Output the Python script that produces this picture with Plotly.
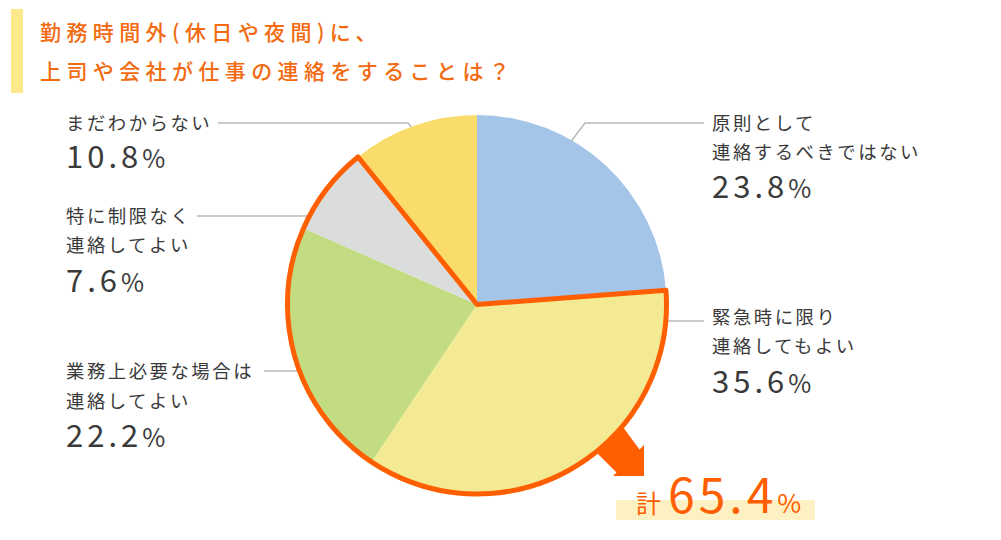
import plotly.graph_objects as go

# ---------------- data ----------------
categories = [
    "原則として連絡するべきではない",
    "緊急時に限り連絡してもよい",
    "業務上必要な場合は連絡してよい",
    "特に制限なく連絡してよい",
    "まだわからない",
]
label_lines = [
    ["原則として", "連絡するべきではない"],
    ["緊急時に限り", "連絡してもよい"],
    ["業務上必要な場合は", "連絡してよい"],
    ["特に制限なく", "連絡してよい"],
    ["まだわからない"],
]
values = [23.8, 35.6, 22.2, 7.6, 10.8]
slice_colors = ["#a4c4e8", "#f4ea94", "#c3dc82", "#dbdddc", "#f9dc6c"]
highlight_idx = [1, 2, 3]
title_lines = ["勤務時間外(休日や夜間)に、", "上司や会社が仕事の連絡をすることは？"]
total_prefix = "計"

# ---------------- layout helpers ----------------
W, H = 1001, 540
FONT = "Noto Sans CJK JP"
ORANGE = "#ff5f00"
TITLE_ORANGE = "#f36a10"
TEXT = "#3a3a3a"
LINE = "#b8b8b8"


def px(x):
    return x / W


def py(y):
    return 1 - y / H


cx, cy, r = 477, 304.5, 189.5

fig = go.Figure()

fig.add_trace(go.Pie(
    values=values, labels=categories, sort=False, direction="clockwise", rotation=0,
    marker=dict(colors=slice_colors, line=dict(width=0)),
    textinfo="none", hoverinfo="label+percent", showlegend=False,
    domain=dict(x=[px(cx - r), px(cx + r)], y=[py(cy + r), py(cy - r)]),
))

# outline around the grouped slices
first = values[:highlight_idx[0]]
group = values[highlight_idx[0]:highlight_idx[-1] + 1]
rest = values[highlight_idx[-1] + 1:]
group_values = [sum(first), sum(group), sum(rest)]
fig.add_trace(go.Pie(
    values=group_values, labels=["g0", "g1", "g2"], sort=False, direction="clockwise", rotation=0,
    marker=dict(colors=["rgba(0,0,0,0)"] * 3,
                line=dict(color=["rgba(0,0,0,0)", ORANGE, "rgba(0,0,0,0)"], width=[0, 5, 0])),
    textinfo="none", hoverinfo="skip", showlegend=False,
    domain=dict(x=[px(cx - r), px(cx + r)], y=[py(cy + r), py(cy - r)]),
))

shapes = []
annotations = []

# title bar
shapes.append(dict(type="rect", xref="paper", yref="paper", layer="below",
                   x0=px(11), x1=px(23), y0=py(93), y1=py(9),
                   fillcolor="#fde98a", line=dict(width=0)))
for txt, yy in zip(title_lines, [31, 70]):
    annotations.append(dict(
        xref="paper", yref="paper", x=px(38), y=py(yy), xanchor="left", yanchor="middle",
        showarrow=False,
        text=f'<span style="letter-spacing:5.4px">{txt}</span>',
        font=dict(family=FONT, size=21, color=TITLE_ORANGE, weight=500),
    ))

# leader lines (pixel polylines)
leaders = [
    [(704, 123), (585, 123), (566, 148)],
    [(704, 321), (650, 321)],
    [(264, 371), (312, 371)],
    [(197, 216), (322, 216)],
    [(218, 123), (408, 123), (416, 133)],
]
for pts in leaders:
    path = "M " + " L ".join(f"{px(x)},{py(y)}" for x, y in pts)
    shapes.append(dict(type="path", xref="paper", yref="paper", layer="below",
                       path=path, line=dict(color=LINE, width=1.5)))

# label positions: (x_left, [y of text lines], y of percent)
label_pos = [
    (712, [122, 151], 185),
    (712, [316, 345], 379),
    (66, [370, 399.5], 433.5),
    (66, [215, 244.5], 278.5),
    (66, [122], 155),
]
for lines, v, (xl, ys, yp) in zip(label_lines, values, label_pos):
    for txt, yy in zip(lines, ys):
        annotations.append(dict(
            xref="paper", yref="paper", x=px(xl - 2), y=py(yy), xanchor="left", yanchor="middle",
            showarrow=False,
            text=f'<span style="letter-spacing:2.5px">{txt}</span>',
            font=dict(family=FONT, size=18.4, color=TEXT),
        ))
    annotations.append(dict(
        xref="paper", yref="paper", x=px(xl - 2), y=py(yp), xanchor="left", yanchor="middle",
        showarrow=False,
        text=f'<span style="letter-spacing:4px">{v:.1f}</span><span style="font-size:25px">%</span>',
        font=dict(family=FONT, size=31, color=TEXT),
    ))

# arrow
arrow = [(617, 419), (639.5, 449.5), (644, 445), (644, 476), (613, 476),
         (616.5, 472.5), (594, 450)]
shapes.append(dict(type="path", xref="paper", yref="paper", layer="below",
                   path="M " + " L ".join(f"{px(x)},{py(y)}" for x, y in arrow) + " Z",
                   fillcolor=ORANGE, line=dict(width=0)))

# total highlight
shapes.append(dict(type="rect", xref="paper", yref="paper", layer="below",
                   x0=px(616), x1=px(815), y0=py(520), y1=py(500),
                   fillcolor="#fdf1c4", line=dict(width=0)))
total = sum(group)
annotations.append(dict(
    xref="paper", yref="paper", x=px(634), y=py(492), xanchor="left", yanchor="middle",
    showarrow=False,
    text=(f'<span style="font-size:25px;letter-spacing:7px">{total_prefix}</span>'
          f'<span style="letter-spacing:4px">{total:.1f}</span>'
          f'<span style="font-size:26px">%</span>'),
    font=dict(family=FONT, size=48, color=ORANGE),
))

fig.update_layout(
    width=W, height=H, margin=dict(l=0, r=0, t=0, b=0),
    paper_bgcolor="white", plot_bgcolor="white",
    shapes=shapes, annotations=annotations, showlegend=False,
)

fig.write_html("out.html")
